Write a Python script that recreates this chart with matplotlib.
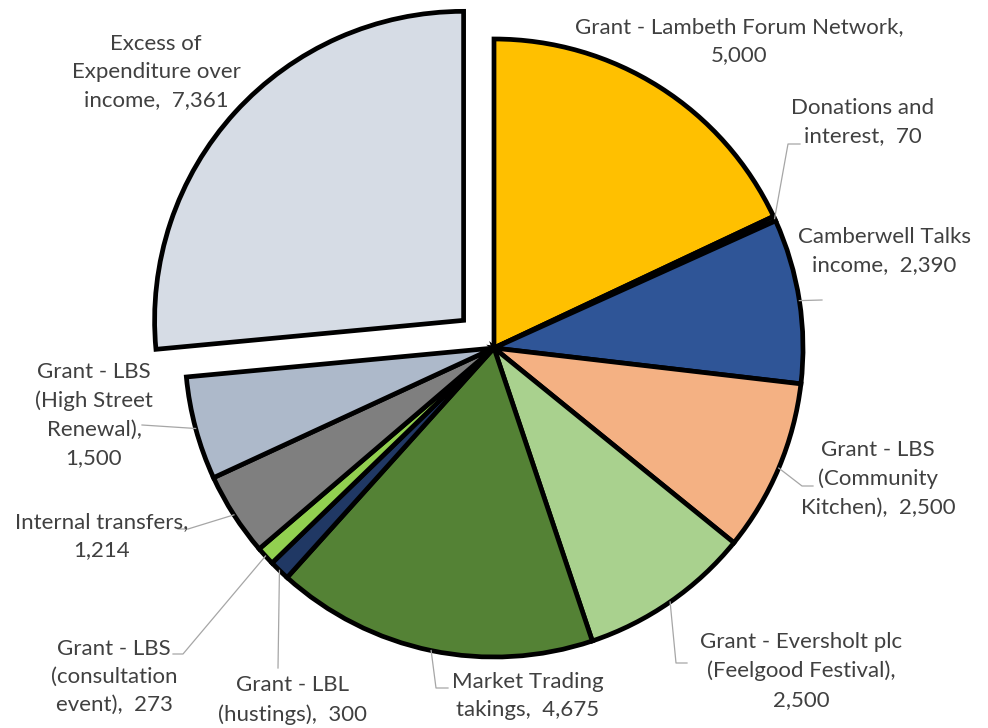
import numpy as np
import matplotlib.pyplot as plt

# ---------------------------------------------------------------------------
# Data (clockwise from 12 o'clock)
# ---------------------------------------------------------------------------
names = [
    "Grant - Lambeth Forum Network",
    "Donations and\ninterest",
    "Camberwell Talks\nincome",
    "Grant - LBS\n(Community\nKitchen)",
    "Grant - Eversholt plc\n(Feelgood Festival)",
    "Market Trading\ntakings",
    "Grant - LBL\n(hustings)",
    "Grant - LBS\n(consultation\nevent)",
    "Internal transfers",
    "Grant - LBS\n(High Street\nRenewal)",
    "Excess of\nExpenditure over\nincome",
]
values = [5000, 70, 2390, 2500, 2500, 4675, 300, 273, 1214, 1500, 7361]
seps = [",\n", ",  ", ",  ", ",  ", ",\n", ",  ", ",  ", ",  ", ",\n", ",\n", ",  "]

colors = ["#FFC000", "#70AD47", "#2F5597", "#F4B183", "#A9D18E", "#548235",
          "#203864", "#92D050", "#7F7F7F", "#ADB9CA", "#D6DCE5"]
explode = [0, 0, 0, 0, 0, 0, 0, 0, 0, 0, 0.133]

# label centres and leader elbows, in pixels from the top-left corner
label_pos = [(739, 41), (863, 122), (884, 251), (878, 479), (801, 671),
             (528, 696), (292, 700), (114, 677), (102, 536), (94, 415),
             (156, 72)]
leaders = [
    None,
    [(788, 144), (800, 144)],
    [(822, 300)],
    [(802, 486), (813, 486)],
    [(676, 663), (687, 663)],
    [(436, 688), (448, 688)],
    [(278, 668)],
    [(183, 654), (173, 654)],
    [(188, 529), (178, 529)],
    [(142, 425)],
    None,
]

# ---------------------------------------------------------------------------
# Figure: pie of radius 1 whose centre sits at pixel (494, 348)
# ---------------------------------------------------------------------------
W, H = 988, 728
CX, CY, R = 494, 348, 309


def px(p):
    return (p[0] - CX) / R, (CY - p[1]) / R


fig = plt.figure(figsize=(W / 100, H / 100), dpi=100)
ax = fig.add_axes([0, 0, 1, 1])

wedges, _ = ax.pie(values, colors=colors, explode=explode, startangle=90,
                   counterclock=False, radius=1, frame=True,
                   wedgeprops=dict(edgecolor="black", linewidth=3.4,
                                   joinstyle="miter"))

ax.set_xlim(-CX / R, (W - CX) / R)
ax.set_ylim((CY - H) / R, CY / R)
ax.set_aspect("equal")
ax.axis("off")

for w, name, val, sep, pos, elb in zip(wedges, names, values, seps,
                                       label_pos, leaders):
    if elb is not None:
        th = np.deg2rad((w.theta1 + w.theta2) / 2)
        pts = [(w.center[0] + w.r * np.cos(th), w.center[1] + w.r * np.sin(th))]
        pts += [px(p) for p in elb]
        xs, ys = zip(*pts)
        ax.plot(xs, ys, color="#A6A6A6", lw=0.9, zorder=1)
    x, y = px(pos)
    ax.text(x, y, f"{name}{sep}{val:,}", ha="center", va="center",
            multialignment="center", fontsize=16, family="Lato",
            color="#404040", linespacing=1.52)

fig.savefig("out.png", dpi=100)
